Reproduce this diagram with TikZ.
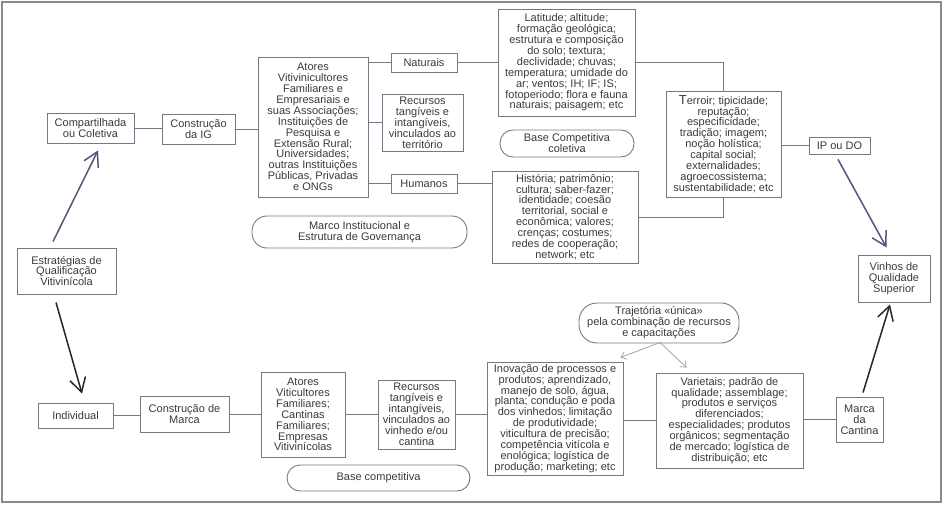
\documentclass[tikz,border=0pt]{standalone}
\usepackage{fontspec}
\setmainfont{Liberation Sans}
\usetikzlibrary{arrows.meta}
\definecolor{boxc}{HTML}{77778A}
\definecolor{txt}{HTML}{3A3A3A}
\definecolor{arrtop}{HTML}{55557A}
\definecolor{framec}{HTML}{8A8A8A}
\begin{document}
\begin{tikzpicture}[x=1pt,y=-1pt,
  font=\fontsize{11}{10.9}\selectfont,
  box/.style={draw=boxc, line width=0.9pt, align=center, inner sep=0pt, text=txt},
  rbox/.style={box, rounded corners=#1},
  link/.style={draw=boxc, line width=0.9pt},
  bigarrtop/.style={draw=arrtop, line width=1.5pt, -{Straight Barb[length=14pt,width=16pt]}},
  bigarrbot/.style={draw=black!85, line width=1.5pt, -{Straight Barb[length=14pt,width=16pt]}},
  smallarr/.style={draw=gray!80, line width=0.7pt, -{Straight Barb[length=5pt,width=8pt]}}
]
\useasboundingbox (0,0) rectangle (944,505);
\draw[framec, line width=1.4pt] (2,2) rectangle (941,502);

% ---------- top branch ----------
\node[box, minimum width=87, minimum height=30] (comp) at (90.5,128) {Compartilhada\\ou Coletiva};
\node[box, minimum width=73, minimum height=30] (cig) at (198.5,129) {Construção\\da IG};
\node[box, minimum width=110, minimum height=140] (atop) at (313,127)
  {Atores\\Vitivinicultores\\Familiares e\\Empresariais e\\suas Associações;\\Instituições de\\Pesquisa e\\Extensão Rural;\\Universidades{\large;}\\outras Instituições\\Públicas, Privadas\\e ONGs};
\node[box, minimum width=66, minimum height=19] (nat) at (424,62.5) {Naturais};
\node[box, minimum width=81, minimum height=57] (rtop) at (422.5,122.5) {Recursos\\tangíveis e\\intangíveis,\\vinculados ao\\território};
\node[box, minimum width=66, minimum height=19] (hum) at (424,183.5) {Humanos};
\node[rbox=15pt, minimum width=215, minimum height=32] (marco) at (359.5,232) {Marco Institucional e\\Estrutura de Governança};
\node[box, minimum width=137, minimum height=107] (lat) at (566.5,62.5)
  {Latitude; altitude;\\formação geológica;\\estrutura e composição\\do solo; textura;\\declividade; chuvas;\\temperatura; umidade do\\ar; ventos; IH; IF; IS;\\fotoperiodo; flora e fauna\\naturais; paisagem; etc};
\node[rbox=13pt, minimum width=134, minimum height=27] (bcc) at (567,143.5) {Base Competitiva\\coletiva};
\node[box, minimum width=146, minimum height=92] (hist) at (565,217)
  {História; patrimônio;\\cultura; saber-fazer;\\identidade; coesão\\territorial, social e\\econômica; valores;\\crenças; costumes;\\redes de cooperação;\\network; etc};
\node[box, minimum width=115, minimum height=106] (terr) at (723.5,144)
  {{\fontsize{13}{10.9}\selectfont T}erroir; tipicidade;\\reputação;\\especificidade;\\tradição; imagem;\\noção holística;\\capital social;\\externalidades;\\agroecossistema;\\sustentabilidade; etc};
\node[box, minimum width=61, minimum height=17] (ipdo) at (839.5,145.5) {IP ou DO};
\node[box, minimum width=72, minimum height=47] (vinhos) at (894,278.5) {Vinhos de\\Qualidade\\Superior};

% ---------- left ----------
\node[box, minimum width=99, minimum height=46] (estr) at (66.5,271) {Estratégias de\\Qualificação\\Vitivinícola};

% ---------- bottom branch ----------
\node[box, minimum width=75, minimum height=25] (ind) at (75.5,415.5) {Individual};
\node[box, minimum width=89, minimum height=36] (cmarca) at (184.5,414) {Construção de\\Marca};
\node[box, minimum width=84, minimum height=85] (abot) at (303,414.5) {Atores\\Viticultores\\Familiares;\\Cantinas\\Familiares;\\Empresas\\Vitivinícolas};
\node[box, minimum width=77, minimum height=69] (rbot) at (416.5,414.5) {Recursos\\tangíveis e\\intangíveis,\\vinculados ao\\vinhedo e/ou\\cantina};
\node[rbox=13pt, minimum width=183, minimum height=26] (bc) at (378.5,478) {Base competitiva};
\node[box, minimum width=136, minimum height=113] (inov) at (555,418.5)
  {Inovação de processos e\\produtos; aprendizado,\\manejo de solo, água,\\planta; condução e poda\\dos vinhedos; limitação\\de produtividade;\\viticultura de precisão;\\competência vitícola e\\enológica; logística de\\produção; marketing; etc};
\node[box, minimum width=147, minimum height=95] (var) at (729.5,420.5)
  {Varietais; padrão de\\qualidade; assemblage;\\produtos e serviços\\diferenciados;\\especialidades; produtos\\orgânicos; segmentação\\de mercado; logística de\\distribuição; etc};
\node[box, minimum width=47, minimum height=45] (mcant) at (859.5,419.5) {Marca\\da\\Cantina};
\node[rbox=18pt, minimum width=160, minimum height=40] (traj) at (659,323) {Trajetória «única»\\pela combinação de recursos\\e capacitações};

% ---------- connectors top ----------
\draw[link] (comp.east) -- (comp.east -| cig.west);
\draw[link] (cig.east) -- (cig.east -| atop.west);
\draw[link] (atop.east |- nat.west) -- (nat.west);
\draw[link] (atop.east |- rtop.west) -- (rtop.west);
\draw[link] (atop.east |- hum.west) -- (hum.west);
\draw[link] (nat.east) -- (nat.east -| lat.west);
\draw[link] (lat.east) -| (terr.north);
\draw[link] (hum.east) -- (hum.east -| hist.west);
\draw[link] (hist.east) -| (terr.south);
\draw[link] (terr.east |- ipdo.west) -- (ipdo.west);

% ---------- connectors bottom ----------
\draw[link] (ind.east) -- (ind.east -| cmarca.west);
\draw[link] (cmarca.east) -- (cmarca.east -| abot.west);
\draw[link] (abot.east) -- (abot.east -| rbot.west);
\draw[link] (rbot.east) -- (rbot.east -| inov.west);
\draw[link] (inov.east |- var.west) -- (var.west);
\draw[link] (var.east |- mcant.west) -- (mcant.west);

% ---------- arrows ----------
\draw[bigarrtop] ([shift={(-13.5,-6)}]estr.north) -- ([shift={(7.5,7)}]comp.south);
\draw[bigarrbot] ([shift={(-10.5,8)}]estr.south) -- ([shift={(6.5,-9)}]ind.north);
\draw[bigarrtop] ([shift={(-1.5,5)}]ipdo.south) -- ([shift={(29,-7)}]vinhos.north west);
\draw[bigarrbot] ([shift={(3.5,-4)}]mcant.north) -- ([shift={(-4,2)}]vinhos.south);
\draw[smallarr] ([shift={(1,-1)}]traj.south) -- ([shift={(-3,-4)}]inov.north east);
\draw[smallarr] ([shift={(1,-1)}]traj.south) -- ([shift={(31,-5)}]var.north west);
\end{tikzpicture}
\end{document}
